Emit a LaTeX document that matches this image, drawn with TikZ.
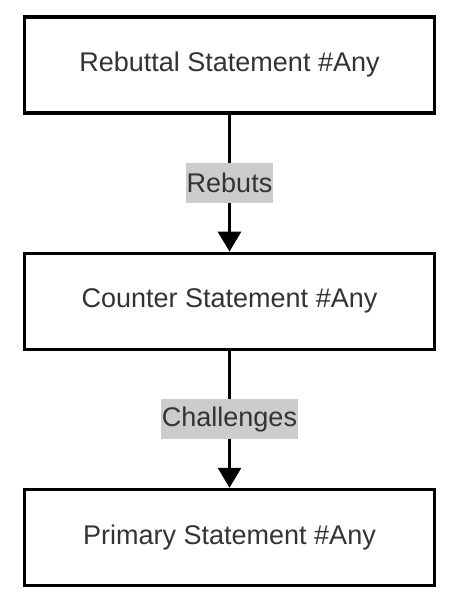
\documentclass[tikz,border=0pt]{standalone}
\usepackage{fontspec}
\setmainfont{Liberation Sans}
\usepackage{tikz}
\usetikzlibrary{positioning}
\usetikzlibrary{arrows.meta}
\definecolor{textgray}{RGB}{51,51,51}
\definecolor{labelgray}{RGB}{204,204,204}
\newcommand{\widthstatement}{410pt}
\newcommand{\heightstatement}{96pt}
\tikzset{
    common/.style={text=textgray, font=\fontsize{27}{32}\selectfont},
    statement/.style={common, draw, rectangle, line width=3.2pt, fill=white,
        minimum width=\widthstatement, minimum height=\heightstatement},
    relation/.style={common, fill=labelgray, inner xsep=1pt, inner ysep=0pt, minimum height=40pt},
    link/.style={line width=3pt, -{Triangle[width=23pt, length=20pt]}},
}
\begin{document}
\begin{tikzpicture}[x=1pt, y=1pt, node distance=137pt]
    \useasboundingbox (0,0) rectangle (450,599);

    \node[statement] (rebuttal) at (229.5,534) {Rebuttal Statement \#Any};
    \node[statement, below=of rebuttal] (counter) {Counter Statement \#Any};
    \node[statement, below=of counter] (primary) {Primary Statement \#Any};

    \draw[link] (rebuttal) -- node[relation] {Rebuts} (counter);
    \draw[link] (counter) -- node[relation] {Challenges} (primary);
\end{tikzpicture}
\end{document}
